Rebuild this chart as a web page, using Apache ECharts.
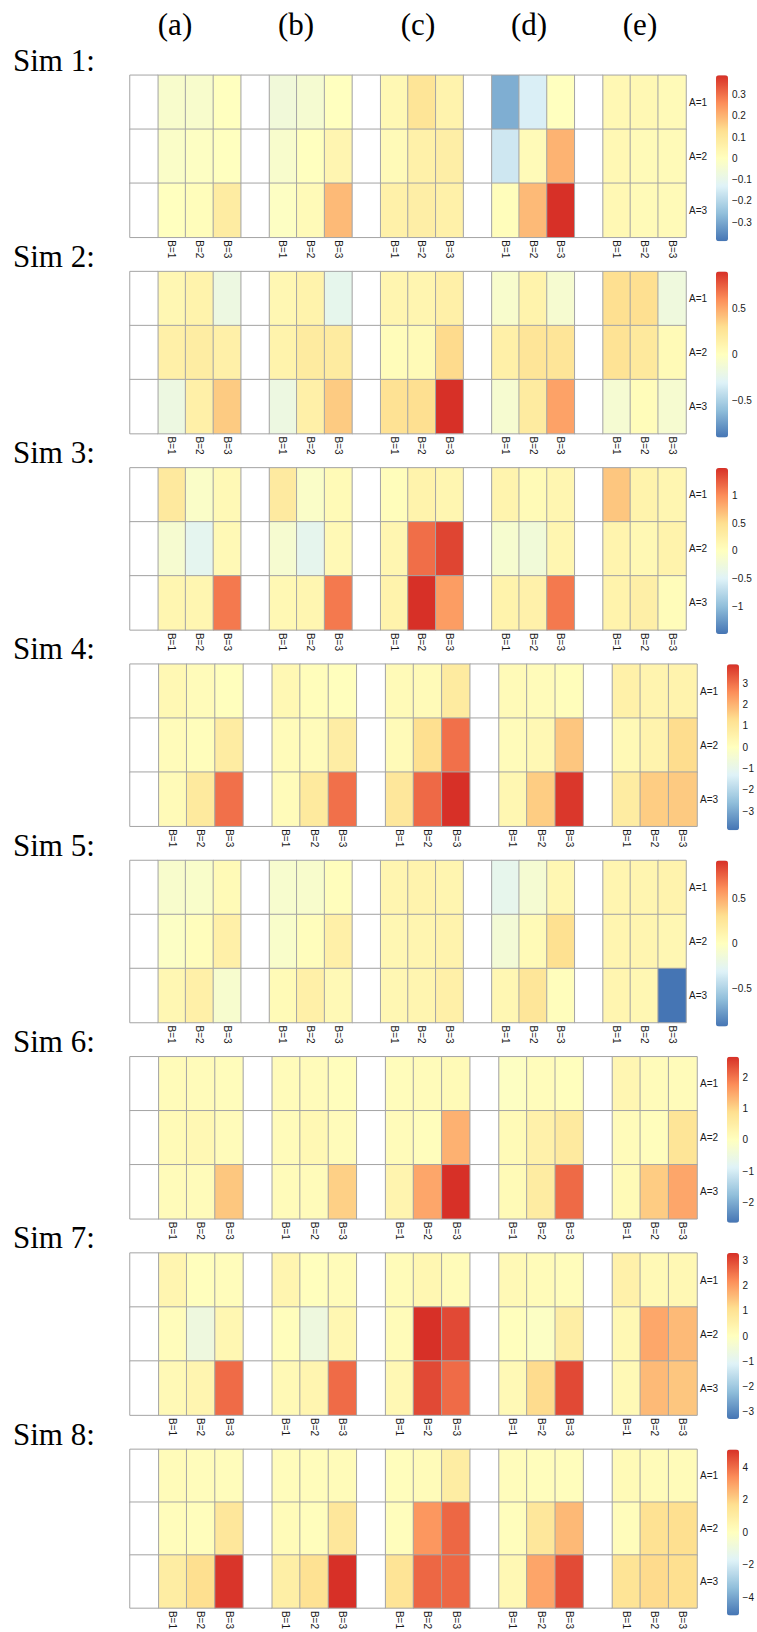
<!DOCTYPE html>
<html>
<head>
<meta charset="utf-8">
<script src="https://cdn.jsdelivr.net/npm/echarts@6/dist/echarts.min.js"></script>
<style>
  html, body { margin: 0; padding: 0; background: #ffffff; }
  #chart { width: 757px; height: 1632px; }
</style>
</head>
<body>
<div id="chart"></div>
<script>
// Column groups, factor levels and panel titles
const groupLabels = ['(a)', '(b)', '(c)', '(d)', '(e)'];
const levelsA = ['A=1', 'A=2', 'A=3'];
const levelsB = ['B=1', 'B=2', 'B=3'];
const simLabels = ['Sim 1:', 'Sim 2:', 'Sim 3:', 'Sim 4:', 'Sim 5:', 'Sim 6:', 'Sim 7:', 'Sim 8:'];

// Cell values: one row per level of A, 15 columns = groups (a)-(e) x B=1..3
const sim1 = [
  [-0.03, -0.03, 0.00, -0.06, -0.04, 0.00, 0.03, 0.11, 0.05, -0.29, -0.14, 0.00, 0.03, 0.03, 0.02],
  [-0.02, -0.01, 0.00, -0.03, 0.00, 0.04, 0.02, 0.06, 0.07, -0.16, 0.02, 0.20, 0.03, 0.02, 0.02],
  [0.00, 0.01, 0.08, -0.01, 0.02, 0.19, 0.06, 0.07, 0.06, 0.01, 0.19, 0.39, 0.03, 0.02, 0.02]
];
const sim2 = [
  [0.08, 0.12, -0.18, 0.08, 0.12, -0.24, 0.10, 0.10, 0.15, -0.07, 0.12, -0.09, 0.30, 0.30, -0.16],
  [0.15, 0.18, 0.15, 0.12, 0.20, 0.20, 0.03, 0.05, 0.32, 0.15, 0.25, 0.25, 0.27, 0.22, 0.05],
  [-0.18, 0.15, 0.38, -0.18, 0.15, 0.38, 0.28, 0.30, 0.91, -0.09, 0.20, 0.53, -0.10, 0.03, -0.09]
];
const sim3 = [
  [0.35, -0.08, 0.10, 0.33, -0.08, 0.08, 0.04, 0.20, 0.15, 0.18, 0.08, 0.15, 0.65, 0.20, 0.15],
  [-0.15, -0.42, 0.10, -0.15, -0.40, 0.10, 0.15, 1.16, 1.38, -0.14, -0.22, 0.15, 0.18, 0.12, 0.20],
  [0.15, 0.15, 1.10, 0.12, 0.15, 1.10, 0.20, 1.49, 0.90, 0.20, 0.22, 1.10, 0.20, 0.25, 0.05]
];
const sim4 = [
  [0.30, 0.15, 0.05, 0.30, 0.10, 0.05, 0.20, 0.20, 0.85, 0.20, 0.15, 0.10, 0.60, 0.45, 0.50],
  [0.15, 0.10, 0.80, 0.15, 0.15, 0.75, 0.20, 1.30, 3.00, 0.15, 0.30, 1.70, 0.25, 0.50, 1.35],
  [0.20, 0.90, 3.00, 0.15, 0.90, 3.00, 1.00, 3.10, 3.90, 0.35, 1.60, 3.80, 0.80, 1.60, 1.65]
];
const sim5 = [
  [-0.07, -0.06, 0.05, -0.08, -0.07, 0.02, 0.10, 0.12, 0.10, -0.24, -0.10, 0.08, 0.10, 0.10, 0.12],
  [-0.03, 0.02, 0.15, -0.06, 0.02, 0.15, 0.08, 0.10, 0.12, -0.12, 0.05, 0.30, 0.10, 0.10, 0.08],
  [0.08, 0.15, -0.08, 0.05, 0.15, 0.06, 0.08, 0.10, 0.15, 0.08, 0.25, 0.02, 0.10, 0.08, -0.92]
];
const sim6 = [
  [0.12, 0.10, 0.08, 0.10, 0.10, 0.05, 0.08, 0.10, 0.15, -0.05, 0.08, 0.03, 0.25, 0.10, 0.10],
  [0.15, 0.20, 0.10, 0.10, 0.20, 0.10, 0.10, 0.05, 1.38, 0.15, 0.40, 0.60, 0.10, 0.05, 0.75],
  [0.10, 0.10, 1.15, 0.10, 0.10, 1.05, 0.30, 1.50, 2.65, 0.15, 0.55, 2.10, 0.15, 1.10, 1.50]
];
const sim7 = [
  [0.35, 0.05, 0.10, 0.35, 0.05, 0.15, 0.15, 0.30, 0.15, 0.20, 0.15, 0.10, 0.50, 0.20, 0.25],
  [0.10, -0.60, 0.30, 0.08, -0.60, 0.30, 0.15, 3.30, 3.00, 0.05, -0.10, 0.60, 0.25, 1.85, 1.60],
  [0.20, 0.35, 2.60, 0.20, 0.35, 2.60, 0.25, 3.00, 2.60, 0.20, 1.15, 3.00, 0.20, 1.60, 1.45]
];
const sim8 = [
  [0.20, 0.15, 0.15, 0.15, 0.15, 0.20, 0.10, 0.20, 1.00, 0.15, 0.10, 0.10, 0.30, 0.20, 0.20],
  [0.15, 0.10, 1.30, 0.20, 0.10, 1.30, 0.10, 3.20, 4.10, 0.10, 1.30, 2.50, 0.15, 1.60, 1.70],
  [1.00, 1.70, 5.00, 0.90, 1.60, 5.10, 1.50, 4.10, 4.10, 0.40, 2.90, 4.60, 1.50, 1.80, 1.70]
];

// Colour-key tick labels per panel
const ticks1 = [-0.3, -0.2, -0.1, 0, 0.1, 0.2, 0.3];
const ticks2 = [-0.5, 0, 0.5];
const ticks3 = [-1, -0.5, 0, 0.5, 1];
const ticks4 = [-3, -2, -1, 0, 1, 2, 3];
const ticks5 = [-0.5, 0, 0.5];
const ticks6 = [-2, -1, 0, 1, 2];
const ticks7 = [-3, -2, -1, 0, 1, 2, 3];
const ticks8 = [-4, -2, 0, 2, 4];

const panels = [sim1, sim2, sim3, sim4, sim5, sim6, sim7, sim8];
const tickSets = [ticks1, ticks2, ticks3, ticks4, ticks5, ticks6, ticks7, ticks8];

// Reversed RdYlBu ramp
const palette = ['#4575B4', '#91BFDB', '#E0F3F8', '#FFFFBF', '#FEE090', '#FC8D59', '#D73027'];

const SANS = '"Liberation Sans", Arial, Helvetica, sans-serif';
const SERIF = '"Liberation Serif", "Times New Roman", serif';
const CELL_BORDER = '#a4a4a4';

// Layout of one panel block
const FIRST_TOP = 75.3;
const STEP = 196.3;
const PLOT_LEFT = 130;
const PLOT_H = 162;
const KEY_W = 12;
const KEY_H = 166;

// x categories: an empty spacer column before each group's B levels
const xCats = [];
groupLabels.forEach(() => { xCats.push(''); levelsB.forEach(b => xCats.push(b)); });

const grid = [], xAxis = [], yAxis = [], series = [], visualMap = [];

panels.forEach((rows, k) => {
  const top = FIRST_TOP + STEP * k;
  const ticks = tickSets[k];
  const integerTicks = ticks.every(t => Number.isInteger(t));
  const plotW = integerTicks ? 567 : 556;
  const keyLeft = PLOT_LEFT + plotW + 30;
  let m = 0;
  rows.forEach(r => r.forEach(v => { m = Math.max(m, Math.abs(v)); }));

  const values = [], blanks = [];
  rows.forEach((r, ai) => {
    groupLabels.forEach((g, gi) => {
      blanks.push([gi * 4, ai, 0]);
      levelsB.forEach((b, bi) => values.push([gi * 4 + 1 + bi, ai, r[gi * 3 + bi]]));
    });
  });

  const gHeat = 2 * k, gKey = 2 * k + 1;
  grid.push({ left: PLOT_LEFT, top: top, width: plotW, height: PLOT_H });
  grid.push({ left: keyLeft, top: top, width: KEY_W, height: KEY_H });

  xAxis.push({
    type: 'category', gridIndex: gHeat, data: xCats, position: 'bottom',
    axisLine: { show: false }, axisTick: { show: false }, splitLine: { show: false },
    axisLabel: { interval: 0, rotate: -90, margin: 3, fontSize: 10, color: '#1a1a1a', fontFamily: SANS }
  });
  yAxis.push({
    type: 'category', gridIndex: gHeat, data: levelsA, inverse: true, position: 'right',
    axisLine: { show: false }, axisTick: { show: false }, splitLine: { show: false },
    axisLabel: { margin: 3, fontSize: 10, color: '#1a1a1a', fontFamily: SANS }
  });
  xAxis.push({ type: 'value', gridIndex: gKey, show: false, min: 0, max: 1 });
  yAxis.push({
    type: 'value', gridIndex: gKey, min: -m, max: m, position: 'right',
    axisLine: { show: false }, axisTick: { show: false }, splitLine: { show: false },
    axisLabel: {
      customValues: ticks, margin: 4, fontSize: 10, color: '#1a1a1a', fontFamily: SANS,
      formatter: v => String(v).replace('-', '\u2212')
    }
  });

  series.push({
    type: 'heatmap', xAxisIndex: gHeat, yAxisIndex: gHeat, data: values, silent: true,
    itemStyle: { borderColor: CELL_BORDER, borderWidth: 1 },
    emphasis: { disabled: true }
  });
  series.push({
    type: 'heatmap', xAxisIndex: gHeat, yAxisIndex: gHeat, data: blanks, silent: true,
    itemStyle: { color: '#ffffff', borderColor: CELL_BORDER, borderWidth: 1 },
    emphasis: { disabled: true }
  });

  visualMap.push({
    type: 'continuous', seriesIndex: series.length - 2, min: -m, max: m,
    inRange: { color: palette }, orient: 'vertical',
    left: keyLeft, top: top, itemWidth: KEY_W, itemHeight: KEY_H,
    calculable: false, hoverLink: false, padding: 0, text: null, showLabel: false
  });
});

// Panel titles and column headers
const graphic = [];
simLabels.forEach((t, k) => {
  graphic.push({
    type: 'text', x: 13, y: 60 + STEP * k, silent: true,
    style: { text: t, font: '31px ' + SERIF, fill: '#000', align: 'left', verticalAlign: 'middle', textAlign: 'left', textVerticalAlign: 'middle' }
  });
});
const headerX = [175, 296, 418, 529, 640];
groupLabels.forEach((t, i) => {
  graphic.push({
    type: 'text', x: headerX[i], y: 24, silent: true,
    style: { text: t, font: '31px ' + SERIF, fill: '#000', align: 'center', verticalAlign: 'middle', textAlign: 'center', textVerticalAlign: 'middle' }
  });
});

const chart = echarts.init(document.getElementById('chart'), null, { renderer: 'svg', width: 757, height: 1632 });
chart.setOption({
  animation: false,
  backgroundColor: '#ffffff',
  grid, xAxis, yAxis, series, visualMap, graphic
});
</script>
</body>
</html>
